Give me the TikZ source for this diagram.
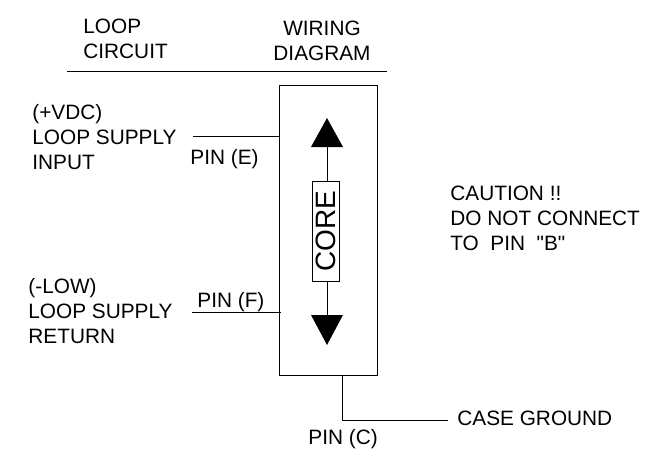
\documentclass[tikz,border=0pt]{standalone}
\usepackage{fontspec}
\setmainfont{Liberation Sans}
\newfontfamily\plainquote{Liberation Sans}[Ligatures=ResetAll]
\usetikzlibrary{positioning}
\tikzset{
  lbl/.style={inner sep=0pt, align=left, anchor=west, font=\fontsize{20.8pt}{25pt}\selectfont},
  pinlbl/.style={inner sep=0pt, anchor=base west, font=\fontsize{20.8pt}{25pt}\selectfont}
}
\begin{document}
\begin{tikzpicture}[x=1pt,y=-1pt,line width=0.8pt]
        \useasboundingbox (0,0) rectangle (652,450);

        \node[lbl] (loopLbl) at (83,38.5) {LOOP\\CIRCUIT};
        \node[lbl, align=center, anchor=center] (wiringLbl) at (322,40.5) {WIRING\\DIAGRAM};
        \coordinate (ruleL) at (67,71.5);
        \coordinate (ruleR) at (387,71.5);
        \draw (ruleL) -- (ruleR);

        \node[draw, minimum width=98pt, minimum height=290pt, inner sep=0pt] (box) at (328,230.5) {};
        \node[lbl] (supplyLbl) at (32,137) {(+VDC)\\LOOP SUPPLY\\INPUT};
        \node[lbl] (returnLbl) at (28,311) {(-LOW)\\LOOP SUPPLY\\RETURN};
        \node[pinlbl] (pinE) at (190,164) {PIN (E)};
        \node[pinlbl] (pinF) at (197,307) {PIN (F)};
        \node[pinlbl] (pinC) at (308,444) {PIN (C)};
        \node[lbl] (cautionLbl) at (450,218.5) {CAUTION !!\\DO NOT CONNECT\\TO\ \ PIN\ \ {\plainquote "B"}};
        \node[pinlbl] (groundLbl) at (457,425) {CASE GROUND};

        \node[draw, minimum width=27pt, minimum height=100pt, inner sep=0pt] (core) at (325.5,231) {};
        \node[rotate=90, inner sep=0pt, font=\fontsize{28pt}{30pt}\selectfont] (coreLbl) at (326,231) {CORE};

        \coordinate (upTip) at (327,118);
        \coordinate (upL) at (311,147);
        \coordinate (upR) at (343,147);
        \coordinate (upMid) at (327,147);
        \coordinate (upEnd) at (327,181);
        \coordinate (dnTip) at (327,345);
        \coordinate (dnL) at (311,315);
        \coordinate (dnR) at (343,315);
        \coordinate (dnMid) at (327,315);
        \coordinate (dnEnd) at (327,281);
        \fill (upTip) -- (upL) -- (upR) -- cycle;
        \fill (dnTip) -- (dnL) -- (dnR) -- cycle;
        \draw (upMid) -- (upEnd);
        \draw (dnEnd) -- (dnMid);

        \coordinate (inEnd) at (193,136.5);
        \coordinate (inBox) at (279,136.5);
        \coordinate (retEnd) at (192,312);
        \coordinate (retBox) at (281,312);
        \draw (inEnd) -- (inBox);
        \draw (retEnd) -- (retBox);

        \coordinate (gndTop) at (342,375);
        \coordinate (gndCor) at (342,420);
        \coordinate (gndEnd) at (448,420);
        \draw (gndTop) -- (gndCor) -- (gndEnd);
      \end{tikzpicture}
\end{document}
